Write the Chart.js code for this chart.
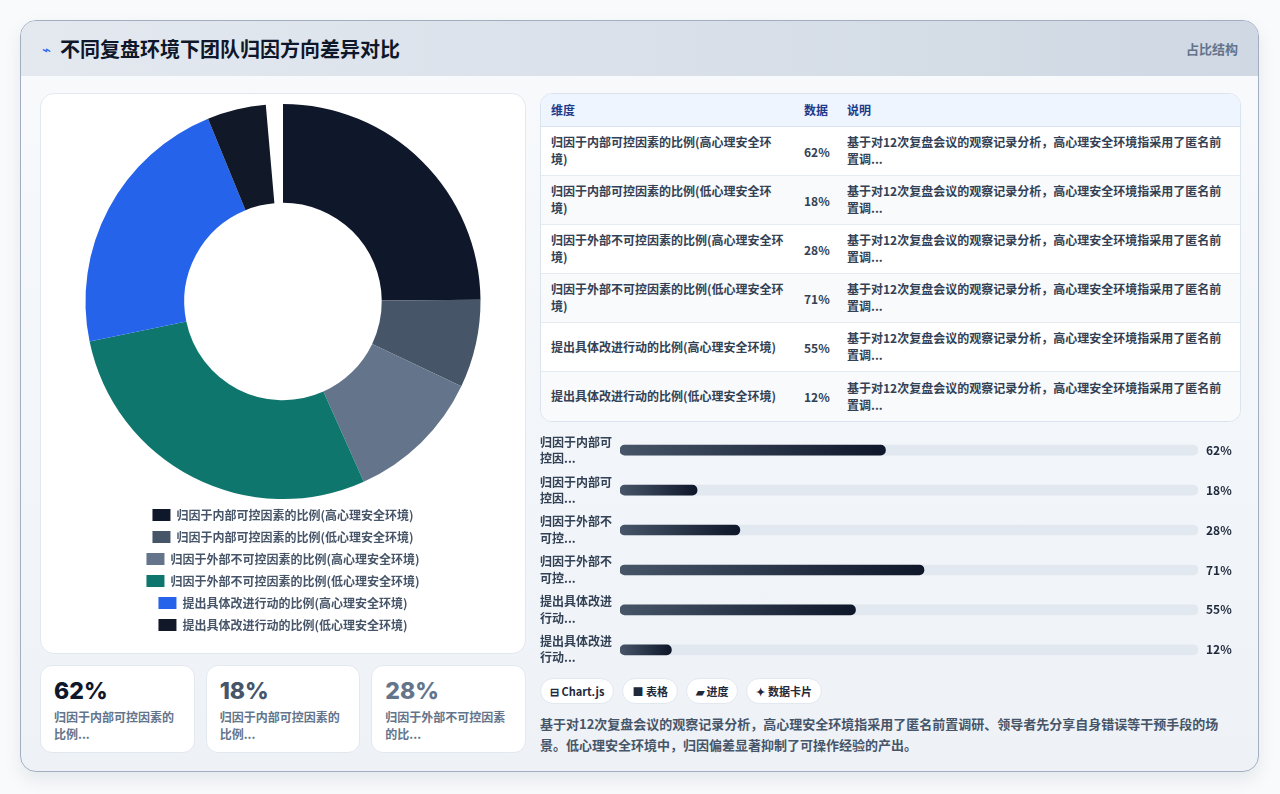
<!DOCTYPE html>
<html lang="zh-CN">
<head>
<meta charset="utf-8">
<title>不同复盘环境下团队归因方向差异对比</title>
<script src="https://cdn.jsdelivr.net/npm/chart.js@4.4.1/dist/chart.umd.min.js"></script>
<style>
  * { box-sizing: border-box; margin: 0; padding: 0; }
  body {
    width: 1280px; height: 794px; overflow: hidden;
    background: #f8fafc;
    font-family: "Noto Sans CJK SC", "Noto Sans", sans-serif;
  }
  .card {
    position: absolute; left: 20px; top: 20px; width: 1239px; height: 752px;
    border: 1px solid #a3afc0; border-radius: 16px; overflow: hidden;
    background: linear-gradient(180deg, #f8fafc 0%, #eef2f7 100%);
    box-shadow: 0 8px 18px rgba(15, 23, 42, 0.08);
  }
  .head {
    height: 55px; display: flex; align-items: center; justify-content: space-between;
    padding: 0 20px 0 21px;
    background: linear-gradient(90deg, #e4e9f0 0%, #cfd8e3 100%);
  }
  .head h1 { font-size: 20px; font-weight: 700; color: #0f172a; display: flex; align-items: center; margin-top: -1px; }
  .head h1 .ic { color: #2563eb; font-size: 15px; margin-right: 9px; font-weight: 400; }
  .head .tag { font-size: 13px; font-weight: 700; color: #64748b; }
  .left { position: absolute; left: 19px; top: 72px; width: 486px; }
  .pie {
    height: 561px; background: #fff; border: 1px solid #e2e8f0; border-radius: 14px;
    padding: 10px 10px 12px 10px;
  }
  .stats { display: flex; gap: 11px; margin-top: 11px; }
  .stat {
    flex: 1; height: 88px; background: #fff; border: 1px solid #e2e8f0; border-radius: 12px;
    padding: 10px 13px;
  }
  .stat .num { font-family: Inter, "Noto Sans", sans-serif; font-size: 23px; font-weight: 800; line-height: 30px; }
  .stat .lab { font-size: 12px; font-weight: 600; color: #64748b; line-height: 17px; margin-top: 2px; }
  .right { position: absolute; left: 519px; top: 72px; width: 701px; }
  table {
    width: 100%; border-collapse: separate; border-spacing: 0;
    border: 1px solid #dbe3ee; border-radius: 12px; overflow: hidden; background: #fff;
    font-size: 12px; table-layout: fixed;
  }
  th {
    background: #eef5fe; color: #1e3a8a; font-weight: 700; text-align: left;
    height: 33px; padding: 0 10px 1px 10px; border-bottom: 1px solid #dbe3ee;
  }
  td {
    color: #334155; font-weight: 600; line-height: 17px; padding: 6px 10px 8px 10px;
    border-bottom: 1px solid #e5ebf2; vertical-align: middle; height: 49px;
  }
  tr:last-child td { border-bottom: none; }
  tbody tr:nth-child(even) td { background: #f8fafc; }
  td.v { padding: 0 4px 0 8px; }
  .bars { position: relative; height: 280px; margin-top: -12px; }
  .chips { display: flex; gap: 8px; margin-top: -12px; }
  .chip {
    height: 26px; line-height: 24px; padding: 0 9px; border-radius: 13px;
    background: #fff; border: 1px solid #e2e8f0; font-size: 11px; font-weight: 700; color: #1e293b;
  }
  .desc { margin-top: 9px; font-size: 13px; line-height: 21px; color: #475569; font-weight: 600; }
</style>
</head>
<body>
<div class="card">
  <div class="head">
    <h1><span class="ic">⌁</span>不同复盘环境下团队归因方向差异对比</h1>
    <span class="tag">占比结构</span>
  </div>
  <div class="left">
    <div class="pie"><canvas id="pieChart"></canvas></div>
    <div class="stats" id="stats"></div>
  </div>
  <div class="right">
    <table>
      <colgroup><col style="width:255px"><col style="width:41px"><col></colgroup>
      <thead><tr><th>维度</th><th style="padding:0 4px 1px 8px">数据</th><th>说明</th></tr></thead>
      <tbody id="tbody"></tbody>
    </table>
    <div class="bars"><canvas id="barChart"></canvas></div>
    <div class="chips">
      <span class="chip">⊟ Chart.js</span>
      <span class="chip">■ 表格</span>
      <span class="chip">▰ 进度</span>
      <span class="chip">✦ 数据卡片</span>
    </div>
    <p class="desc">基于对12次复盘会议的观察记录分析，高心理安全环境指采用了匿名前置调研、领导者先分享自身错误等干预手段的场景。低心理安全环境中，归因偏差显著抑制了可操作经验的产出。</p>
  </div>
</div>

<script>
// data
const categories = [
  "归因于内部可控因素的比例(高心理安全环境)",
  "归因于内部可控因素的比例(低心理安全环境)",
  "归因于外部不可控因素的比例(高心理安全环境)",
  "归因于外部不可控因素的比例(低心理安全环境)",
  "提出具体改进行动的比例(高心理安全环境)",
  "提出具体改进行动的比例(低心理安全环境)"
];
const values = [62, 18, 28, 71, 55, 12];
const sliceColors = ["#0f172a", "#475569", "#64748b", "#0f766e", "#2563eb", "#111827"];
const shortLabels = [
  ["归因于内部可", "控因..."],
  ["归因于内部可", "控因..."],
  ["归因于外部不", "可控..."],
  ["归因于外部不", "可控..."],
  ["提出具体改进", "行动..."],
  ["提出具体改进", "行动..."]
];
const note = "基于对12次复盘会议的观察记录分析，高心理安全环境指采用了匿名前置调...";
const statColors = ["#0f172a", "#475569", "#64748b"];
const statLabels = ["归因于内部可控因素的比例...", "归因于内部可控因素的比例...", "归因于外部不可控因素的比..."];
const barMax = 135;

// table
const tbody = document.getElementById("tbody");
categories.forEach((c, i) => {
  const tr = document.createElement("tr");
  tr.innerHTML = "<td>" + c + "</td><td class='v'>" + values[i] + "%</td><td>" + note.replace("匿名前置调", "匿名前<br>置调") + "</td>";
  tbody.appendChild(tr);
});

// stat cards
const stats = document.getElementById("stats");
for (let i = 0; i < 3; i++) {
  const d = document.createElement("div");
  d.className = "stat";
  d.innerHTML = "<div class='num' style='color:" + statColors[i] + "'>" + values[i] + "%</div><div class='lab'>" + statLabels[i] + "</div>";
  stats.appendChild(d);
}

Chart.defaults.font.family = '"Noto Sans CJK SC", "Noto Sans", sans-serif';
Chart.defaults.animation = false;

new Chart(document.getElementById("pieChart"), {
  type: "doughnut",
  data: {
    labels: categories,
    datasets: [{
      data: values,
      backgroundColor: sliceColors,
      borderWidth: 0
    }]
  },
  options: {
    responsive: true,
    maintainAspectRatio: false,
    cutout: "50%",
    circumference: 355,
    plugins: {
      tooltip: { enabled: false },
      legend: {
        position: "bottom",
        labels: {
          boxWidth: 18,
          boxHeight: 12,
          padding: 10,
          color: "#475569",
          font: { size: 12, weight: "600" }
        }
      }
    }
  }
});

// value text at the right end of each track
const valueLabels = {
  id: "valueLabels",
  afterDatasetsDraw(chart) {
    const ctx = chart.ctx;
    const meta = chart.getDatasetMeta(1);
    ctx.save();
    ctx.font = 'bold 12px "Noto Sans CJK SC", sans-serif';
    ctx.fillStyle = "#1e293b";
    ctx.textBaseline = "middle";
    meta.data.forEach((bar, i) => {
      ctx.fillText(values[i] + "%", chart.chartArea.right + 8, bar.y);
    });
    ctx.restore();
  }
};

new Chart(document.getElementById("barChart"), {
  type: "bar",
  data: {
    labels: shortLabels,
    datasets: [
      {
        data: values.map(() => barMax),
        backgroundColor: "#e2e8f0",
        order: 2
      },
      {
        data: values,
        order: 1,
        backgroundColor(context) {
          const chart = context.chart;
          if (!chart.chartArea) return "#1e293b";
          const x = chart.scales.x;
          const end = x.getPixelForValue(values[context.dataIndex]);
          const g = chart.ctx.createLinearGradient(x.left, 0, end, 0);
          g.addColorStop(0, "#475569");
          g.addColorStop(1, "#0f172a");
          return g;
        }
      }
    ]
  },
  options: {
    indexAxis: "y",
    responsive: true,
    maintainAspectRatio: false,
    layout: { padding: { right: 43 } },
    datasets: {
      bar: { grouped: false, barThickness: 10, borderRadius: 5, borderSkipped: false }
    },
    scales: {
      x: { display: false, min: 0, max: barMax },
      y: {
        grid: { display: false },
        border: { display: false },
        afterFit(scale) { scale.width = 80; },
        ticks: {
          crossAlign: "far",
          color: "#334155",
          padding: 4,
          font: { size: 12, weight: "600", lineHeight: 1.35 }
        }
      }
    },
    plugins: { legend: { display: false }, tooltip: { enabled: false } }
  },
  plugins: [valueLabels]
});
</script>
</body>
</html>
